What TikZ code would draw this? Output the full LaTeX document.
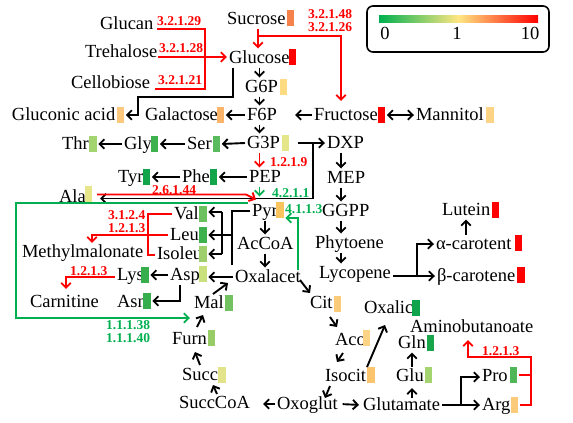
\documentclass[tikz,border=0pt]{standalone}
\usepackage{fontspec}
\setmainfont{Liberation Serif}
\usetikzlibrary{arrows.meta,calc}
\definecolor{cRed}{HTML}{FF0000}
\definecolor{cGreen}{HTML}{00B050}
\definecolor{cSuc}{HTML}{F5824B}
\definecolor{cG6P}{HTML}{FDDB80}
\definecolor{cGlcA}{HTML}{FDC77D}
\definecolor{cGal}{HTML}{F9B46A}
\definecolor{cMan}{HTML}{FDD385}
\definecolor{cThr}{HTML}{A3D46F}
\definecolor{cGly}{HTML}{3DB24F}
\definecolor{cSer}{HTML}{5ABB5E}
\definecolor{cG3P}{HTML}{E5E58A}
\definecolor{cTyr}{HTML}{12A54A}
\definecolor{cAla}{HTML}{E8E68A}
\definecolor{cPyr}{HTML}{F9C45E}
\definecolor{cVal}{HTML}{6CC05F}
\definecolor{cLeu}{HTML}{3EB14F}
\definecolor{cIle}{HTML}{9ECF6C}
\definecolor{cAsp}{HTML}{C9E07D}
\definecolor{cLys}{HTML}{36AE4E}
\definecolor{cMal}{HTML}{73C262}
\definecolor{cFurn}{HTML}{97CC66}
\definecolor{cSucc}{HTML}{E3E38A}
\definecolor{cCit}{HTML}{FCCB7A}
\definecolor{cAco}{HTML}{FDD385}
\definecolor{cIso}{HTML}{FBC56E}
\definecolor{cOxa}{HTML}{0FA34B}
\definecolor{cGln}{HTML}{19A64B}
\definecolor{cPro}{HTML}{4FB758}
\definecolor{lgG}{HTML}{00B050}
\definecolor{lgY}{HTML}{FFE682}
\begin{document}
\begin{tikzpicture}[x=1pt,y=-1pt,
  txt/.style={inner sep=0pt,outer sep=2pt,text height=13pt,text depth=2pt,anchor=west,font=\fontsize{18.5}{20}\selectfont},
  hb/.style={fill=#1,minimum width=7.5pt,minimum height=16pt,inner sep=0pt,outer sep=1.5pt},
  ec/.style={inner sep=0pt,anchor=west,align=left,font=\fontsize{13.5}{13}\selectfont\bfseries,text=#1},
  hd/.tip={Straight Barb[length=4.8pt,width=9.5pt]},
  ln/.style={line width=1.9pt},
  arr/.style={ln,-hd},
  rl/.style={line width=1.9pt,draw=cRed},
  rarr/.style={rl,-hd},
  gl/.style={line width=1.9pt,draw=cGreen},
  garr/.style={gl,-hd}]
\useasboundingbox (0,0) rectangle (573,423);
\coordinate (xm) at (259.5,0);
\coordinate (xp) at (341,0);
\coordinate (xa) at (265,0);
% ---------- text nodes
\node[txt] (Glucan) at (98,24) {Glucan};
\node[txt] (Trehalose) at (83,52) {Trehalose};
\node[txt] (Cellobiose) at (69,83) {Cellobiose};
\node[txt] (Sucrose) at (225,19) {Sucrose};
\node[txt] (Glucose) at (227,58) {Glucose};
\node[txt] (G6P) at (243,87) {G6P};
\node[txt] (Gluconic) at (10,115) {Gluconic acid};
\node[txt] (Galactose) at (143,115) {Galactose};
\node[txt] (F6P) at (245,115) {F6P};
\node[txt] (Fructose) at (312,115) {Fructose};
\node[txt] (Mannitol) at (414,115) {Mannitol};
\node[txt] (Thr) at (60,144) {Thr};
\node[txt] (Gly) at (122,144) {Gly};
\node[txt] (Ser) at (185,144) {Ser};
\node[txt] (G3P) at (245,143) {G3P};
\node[txt] (DXP) at (325,143) {DXP};
\node[txt] (Tyr) at (116,177) {Tyr};
\node[txt] (Phe) at (180,177) {Phe};
\node[txt] (PEP) at (247,177) {PEP};
\node[txt] (MEP) at (325,178) {MEP};
\node[txt] (Ala) at (57,197) {Ala};
\node[txt] (Pyr) at (250,211) {Pyr};
\node[txt] (GGPP) at (320,211) {GGPP};
\node[txt] (Lutein) at (440,210) {Lutein};
\node[txt] (Val) at (172,214) {Val};
\node[txt] (Leu) at (168,235) {Leu};
\node[txt] (Isoleu) at (155,254) {Isoleu};
\node[txt] (AcCoA) at (235,244) {AcCoA};
\node[txt] (Phytoene) at (313,243) {Phytoene};
\node[txt] (alpha) at (434,244) {α-carotent};
\node[txt] (Methylmalonate) at (20,252) {Methylmalonate};
\node[txt] (Lys) at (115,275) {Lys};
\node[txt] (Asp) at (168,275) {Asp};
\node[txt] (Oxalacet) at (233,277) {Oxalacet};
\node[txt] (Lycopene) at (317,273) {Lycopene};
\node[txt] (beta) at (435,276) {β-carotene};
\node[txt] (Carnitine) at (28,302) {Carnitine};
\node[txt] (Asn) at (115,302) {Asn};
\node[txt] (Mal) at (192,303) {Mal};
\node[txt] (Cit) at (308,303) {Cit};
\node[txt] (Oxalic) at (362,308) {Oxalic};
\node[txt] (Aminobutanoate) at (408,327) {Aminobutanoate};
\node[txt] (Furn) at (170,339) {Furn};
\node[txt] (Aco) at (333,340) {Aco};
\node[txt] (Gln) at (396,343) {Gln};
\node[txt] (Succ) at (180,375) {Succ};
\node[txt] (Isocit) at (323,376) {Isocit};
\node[txt] (Glu) at (394,376) {Glu};
\node[txt] (Pro) at (480,376) {Pro};
\node[txt] (SuccCoA) at (177,403) {SuccCoA};
\node[txt] (Oxoglut) at (275,404) {Oxoglut};
\node[txt] (Glutamate) at (361,405) {Glutamate};
\node[txt] (Arg) at (480,405) {Arg};
% ---------- heat boxes
\node[hb=cSuc] (bSucrose) at (290.5,18) {};
\node[hb=cRed] (bGlucose) at (292.5,57) {};
\node[hb=cG6P] (bG6P) at (283.5,87) {};
\node[hb=cGlcA] (bGluconic) at (120.5,115) {};
\node[hb=cGal] (bGalactose) at (220.5,115) {};
\node[hb=cRed] (bFructose) at (381.5,115) {};
\node[hb=cMan] (bMannitol) at (490,115) {};
\node[hb=cThr] (bThr) at (93,144) {};
\node[hb=cGly] (bGly) at (154.5,144) {};
\node[hb=cSer] (bSer) at (216.5,144) {};
\node[hb=cG3P] (bG3P) at (285.5,143) {};
\node[hb=cTyr] (bTyr) at (146.5,177) {};
\node[hb=cTyr] (bPhe) at (213.5,177) {};
\node[hb=cAla] (bAla) at (88.5,194) {};
\node[hb=cPyr] (bPyr) at (280,210) {};
\node[hb=cVal] (bVal) at (203,214) {};
\node[hb=cLeu] (bLeu) at (203,235) {};
\node[hb=cIle] (bIsoleu) at (203,254) {};
\node[hb=cAsp] (bAsp) at (203,274) {};
\node[hb=cLys] (bLys) at (145,275) {};
\node[hb=cLys] (bAsn) at (147,301) {};
\node[hb=cMal] (bMal) at (229,303) {};
\node[hb=cFurn] (bFurn) at (211.5,338) {};
\node[hb=cSucc] (bSucc) at (222,375) {};
\node[hb=cCit] (bCit) at (337.5,304) {};
\node[hb=cAco] (bAco) at (366.5,338) {};
\node[hb=cIso] (bIsocit) at (371,375) {};
\node[hb=cOxa] (bOxalic) at (416,308) {};
\node[hb=cGln] (bGln) at (430.5,343) {};
\node[hb=cThr] (bGlu) at (428.5,375) {};
\node[hb=cPro] (bPro) at (513.5,375) {};
\node[hb=cCit] (bArg) at (514.5,405) {};
\node[hb=cRed] (bLutein) at (495.5,210) {};
\node[hb=cRed] (bAlpha) at (518.5,243) {};
\node[hb=cRed] (bBeta) at (521,275) {};
% ---------- enzyme labels
\node[ec=cRed] (e1) at (157,21) {3.2.1.29};
\node[ec=cRed] (e2) at (159,48) {3.2.1.28};
\node[ec=cRed] (e3) at (158,80) {3.2.1.21};
\node[ec=cRed] (e4) at (308,21) {3.2.1.48\\3.2.1.26};
\node[ec=cRed] (e5) at (270,162) {1.2.1.9};
\node[ec=cGreen] (e6) at (272,193) {4.2.1.1};
\node[ec=cGreen] (e7) at (285,209) {4.1.1.3};
\node[ec=cRed] (e8) at (152,190) {2.6.1.44};
\node[ec=cRed] (e9) at (108,222) {3.1.2.4\\1.2.1.3};
\node[ec=cRed] (e10) at (70,271) {1.2.1.3};
\node[ec=cGreen] (e11) at (106,331.5) {1.1.1.38\\1.1.1.40};
\node[ec=cRed] (e12) at (482,351) {1.2.1.3};
% ---------- legend
\node[draw,line width=1.6pt,rounded corners=6pt,minimum width=182pt,minimum height=46pt,inner sep=0pt] (legend) at (458,29) {};
\shade[left color=lgG,right color=lgY] (379,15) rectangle (458.5,22);
\shade[left color=lgY,right color=cRed] (458.5,15) rectangle (538,22);
\node[txt,anchor=center] (l0) at (385,34) {0};
\node[txt,anchor=center] (l1) at (457,34) {1};
\node[txt,anchor=center] (l10) at (530,34) {10};
% ---------- sugars
\draw[rl] (157,29) -- (205,29) -- (205,89) -- (155,89);
\draw[rarr] (158,57) -- (Glucose.west |- 0,57);
\draw[rarr] (Sucrose.south -| 258,0) -- (Glucose.north -| 258,0);
\draw[rarr] (258,36) -- (341,36) -- (341,101);
\draw[arr] (Glucose.south -| 233,0) -- (233,97) -- (138,97) -- (138,115) -- (bGluconic.east);
\draw[arr] (Glucose.south -| xm) -- (G6P.north -| xm);
\draw[arr] (G6P.south -| xm) -- (F6P.north -| xm);
\draw[arr] (F6P.south -| xm) -- (G3P.north -| xm);
\draw[arr] (F6P.west) -- (bGalactose.east);
\draw[arr] (Fructose.west) -- ++(-17,0);
\draw[ln,hd-hd] (bFructose.east) -- (Mannitol.west);
% ---------- amino acids row
\draw[arr] (Gly.west) -- (bThr.east);
\draw[arr] (Ser.west) -- (bGly.east);
\draw[arr] (G3P.west) -- (bSer.east);
\draw[arr] (298,143) -- (DXP.west);
\draw[arr] (313,143) -- (313,198.5) -- (100,198.5);
\draw[arr] (Phe.west) -- (bTyr.east);
\draw[arr] (PEP.west) -- (bPhe.east);
\draw[rarr] (G3P.south -| xm) -- (PEP.north -| xm);
\draw[garr] (PEP.south -| xm) -- ++(0,10);
\draw[rarr] (97,194.5) -- (246,194.5) -- (256,199.5);
\draw[garr] (248,203) -- (16,203) -- (16,318) -- (190,318);
% ---------- Pyr branches
\draw[ln] (Pyr.west) -- (232,211) -- (232,265);
\draw[arr] (232,235) -- (bLeu.east);
\draw[ln] (222,212) -- (222,254);
\draw[arr] (222,212) -- (bVal.east |- 0,212);
\draw[arr] (222,254) -- (bIsoleu.east);
\draw[arr] (Pyr.south -| xa) -- (AcCoA.north -| xa);
\draw[arr] (AcCoA.south -| xa) -- (Oxalacet.north -| xa);
\draw[garr] (298,270) -- (298,218) -- (bPyr.east |- 0,218);
\draw[arr] (Oxalacet.west) -- (bAsp.east |- Oxalacet.west);
\draw[arr] (Asp.west) -- (bLys.east);
\draw[arr] (Asp.south -| 180,0) -- (180,301) -- (bAsn.east);
\draw[rarr] (Lys.west |- 0,277) -- (66,277) -- (66,289);
\draw[rl] (Val.west) -- (148,214) -- (148,255) -- (Isoleu.west |- 0,255);
\draw[rarr] (Leu.west) -- (92,235) -- (92,243);
% ---------- TCA
\draw[arr] (213,294) -- (228,283);
\draw[arr] (197,327) -- (203,315);
\draw[arr] (200,365) -- (195,352);
\draw[arr] (217,394) -- (213,385);
\draw[arr] (300,280) -- (310,293);
\draw[arr] (330,317) -- (337,327);
\draw[arr] (343,353) -- (337,362);
\draw[arr] (367,367) -- (385,325);
\draw[arr] (330,386) -- (325,398);
\draw[arr] (Oxoglut.west) -- ++(-12,0);
\draw[arr,shorten <=3pt,shorten >=2pt] (Oxoglut.east) -- (Glutamate.west);
\draw[arr] (412,398) -- (412,388);
\draw[arr] (Glu.north -| 412,0) -- (Gln.south -| 412,0);
\draw[arr] (Glutamate.east) -- (Arg.west);
\draw[arr] (461,405) -- (461,377) -- (Pro.west |- 0,377);
\draw[rl] (bPro.east) -- (531,375);
\draw[rarr] (bArg.east) -- (531,405) -- (531,357) -- (468,357) -- (468,340);
% ---------- isoprenoids
\draw[arr] (DXP.south -| xp) -- (MEP.north -| xp);
\draw[arr] (MEP.south -| xp) -- (GGPP.north -| xp);
\draw[arr] (GGPP.south -| xp) -- (Phytoene.north -| xp);
\draw[arr] (Phytoene.south -| xp) -- (Lycopene.north -| xp);
\draw[arr] (Lycopene.east |- beta.west) -- (beta.west);
\draw[arr] (417,276) -- (417,244) -- (alpha.west);
\draw[arr] (alpha.north -| 466,0) -- (Lutein.south -| 466,0);
\end{tikzpicture}
\end{document}
